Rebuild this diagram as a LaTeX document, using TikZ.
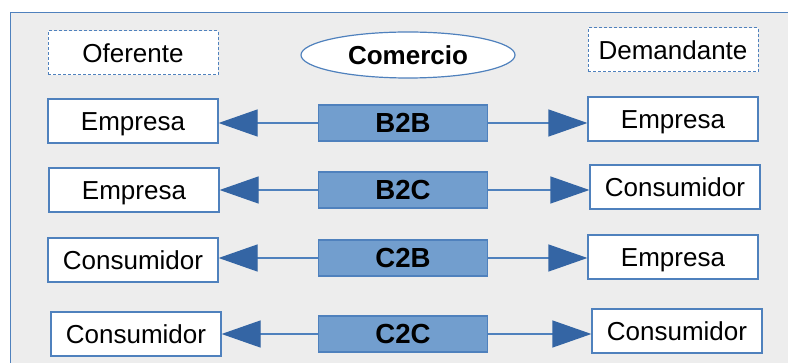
\documentclass[tikz,border=0pt]{standalone}
\usepackage{fontspec}
\setmainfont{Liberation Sans}
\usetikzlibrary{arrows.meta,shapes.geometric}

\definecolor{marco}{RGB}{79,129,189}
\definecolor{fondo}{RGB}{237,237,237}
\definecolor{relleno}{RGB}{114,158,206}
\definecolor{punta}{RGB}{52,101,164}

\tikzset{
  actor/.style={draw=marco, fill=white, line width=0.6pt, minimum width=85pt, minimum height=22pt, inner sep=0pt, text height=9.3pt, text depth=0pt, font=\fontsize{13}{15}\selectfont},
  titulo/.style={actor, line width=0.5pt, dash pattern=on 1.5pt off 1pt},
  tipo/.style={draw=marco, fill=relleno, line width=0.6pt, minimum width=84.5pt, minimum height=18pt, inner sep=0pt, text height=9.9pt, text depth=0pt, font=\fontsize{13.8}{15}\selectfont\bfseries},
  flecha/.style={draw=marco, line width=0.6pt, -{Triangle[length=19.5pt,width=13.5pt,fill=punta,color=punta]}}
}

\begin{document}
\begin{tikzpicture}[x=0.5pt,y=-0.5pt]
    \useasboundingbox (0,0) rectangle (788,363);
    \clip (0,0) rectangle (788,363);
    \draw[marco, fill=fondo, line width=0.5pt] (10,13) rectangle (800,380);

    % encabezados
    \node[titulo] (oferente) at (133,53) {Oferente};
    \node[draw=marco, fill=white, ellipse, line width=0.6pt, minimum width=107pt, minimum height=23pt, inner sep=0pt, text height=9.3pt, text depth=0pt, font=\fontsize{13}{15}\selectfont\bfseries] (comercio) at (408,55) {Comercio};
    \node[titulo] (demandante) at (673,50) {Demandante};

    % B2B
    \node[actor] (of1) at (133,121) {Empresa};
    \node[tipo] (b2b) at (403,123) {B2B};
    \node[actor] (de1) at (673,119) {Empresa};
    \draw[flecha] (b2b.west) -- (b2b.west -| of1.east);
    \draw[flecha] (b2b.east) -- (b2b.east -| de1.west);

    % B2C
    \node[actor] (of2) at (134,190) {Empresa};
    \node[tipo] (b2c) at (403,190) {B2C};
    \node[actor] (de2) at (675,187) {Consumidor};
    \draw[flecha] (b2c.west) -- (b2c.west -| of2.east);
    \draw[flecha] (b2c.east) -- (b2c.east -| de2.west);

    % C2B
    \node[actor] (of3) at (133,260) {Consumidor};
    \node[tipo] (c2b) at (403,258) {C2B};
    \node[actor] (de3) at (673,257) {Empresa};
    \draw[flecha] (c2b.west) -- (c2b.west -| of3.east);
    \draw[flecha] (c2b.east) -- (c2b.east -| de3.west);

    % C2C
    \node[actor] (of4) at (136,334) {Consumidor};
    \node[tipo] (c2c) at (403,334) {C2C};
    \node[actor] (de4) at (677,331) {Consumidor};
    \draw[flecha] (c2c.west) -- (c2c.west -| of4.east);
    \draw[flecha] (c2c.east) -- (c2c.east -| de4.west);
\end{tikzpicture}
\end{document}
